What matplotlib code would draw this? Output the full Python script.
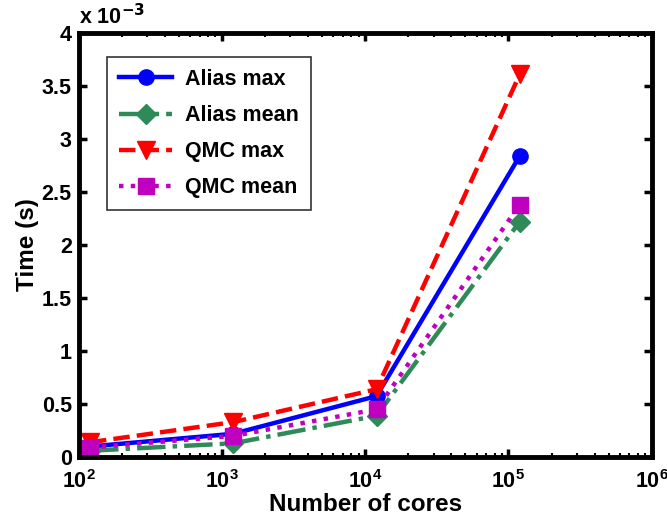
import matplotlib
matplotlib.use("Agg")
import matplotlib.pyplot as plt
from matplotlib.ticker import FuncFormatter, LogLocator, NullFormatter

cores = [120, 1200, 12000, 120000]
alias_max = [0.10e-3, 0.22e-3, 0.575e-3, 2.84e-3]
alias_mean = [0.06e-3, 0.13e-3, 0.39e-3, 2.22e-3]
qmc_max = [0.14e-3, 0.33e-3, 0.64e-3, 3.61e-3]
qmc_mean = [0.09e-3, 0.20e-3, 0.45e-3, 2.38e-3]
yticks = [0, 0.5e-3, 1e-3, 1.5e-3, 2e-3, 2.5e-3, 3e-3, 3.5e-3, 4e-3]

plt.rcParams['font.family'] = ['Liberation Sans', 'DejaVu Sans']
plt.rcParams['font.weight'] = 'bold'

fig = plt.figure(figsize=(6.67, 5.23), dpi=100)
ax = fig.add_axes([0.118, 0.126, 0.859, 0.811])

ax.plot(cores, alias_max, '-', color='#0000ff', lw=3.2, marker='o', ms=11, label='Alias max')
ax.plot(cores, alias_mean, '-.', color='#2e8b57', lw=3.2, marker='D', ms=10, label='Alias mean')
ax.plot(cores, qmc_max, '--', color='#ff0000', lw=3.2, marker='v', ms=13, label='QMC max')
ax.plot(cores, qmc_mean, ':', color='#bf00bf', lw=3.2, marker='s', ms=11, label='QMC mean')

ax.set_xscale('log')
ax.set_xlim(1e2, 1e6)
ax.set_ylim(0, 4e-3)
ax.set_yticks(yticks)
ax.yaxis.set_major_formatter(FuncFormatter(lambda v, p: ('%g' % round(v * 1e3, 3))))
ax.xaxis.set_major_locator(LogLocator(base=10, numticks=10))
ax.xaxis.set_minor_locator(LogLocator(base=10, subs=range(2, 10), numticks=20))
ax.xaxis.set_minor_formatter(NullFormatter())

for s in ax.spines.values():
    s.set_linewidth(3.5)
ax.tick_params(axis='both', which='major', direction='in', length=6, width=2.5,
               labelsize=15.5, top=True, right=True, pad=5)
ax.tick_params(axis='x', which='major', pad=9)
ax.tick_params(axis='x', which='minor', direction='in', length=3, width=1.5, top=True)
for lab in ax.get_xticklabels() + ax.get_yticklabels():
    lab.set_fontweight('bold')

ax.text(0.0, 1.01, 'x 10$^{-3}$', transform=ax.transAxes, fontsize=15.5,
        fontweight='bold', ha='left', va='bottom')

ax.set_xlabel('Number of cores', fontsize=17.5, fontweight='bold', labelpad=0)
ax.set_ylabel('Time (s)', fontsize=17.5, fontweight='bold', labelpad=2)

leg = ax.legend(loc='upper left', bbox_to_anchor=(0.049, 0.943), borderaxespad=0,
                frameon=True, fancybox=False, edgecolor='black', handlelength=2.5,
                borderpad=0.55, labelspacing=0.7, handletextpad=0.6,
                prop={'weight': 'bold', 'size': 15.5})
leg.get_frame().set_linewidth(1.2)

fig.savefig('out.png', dpi=100)
